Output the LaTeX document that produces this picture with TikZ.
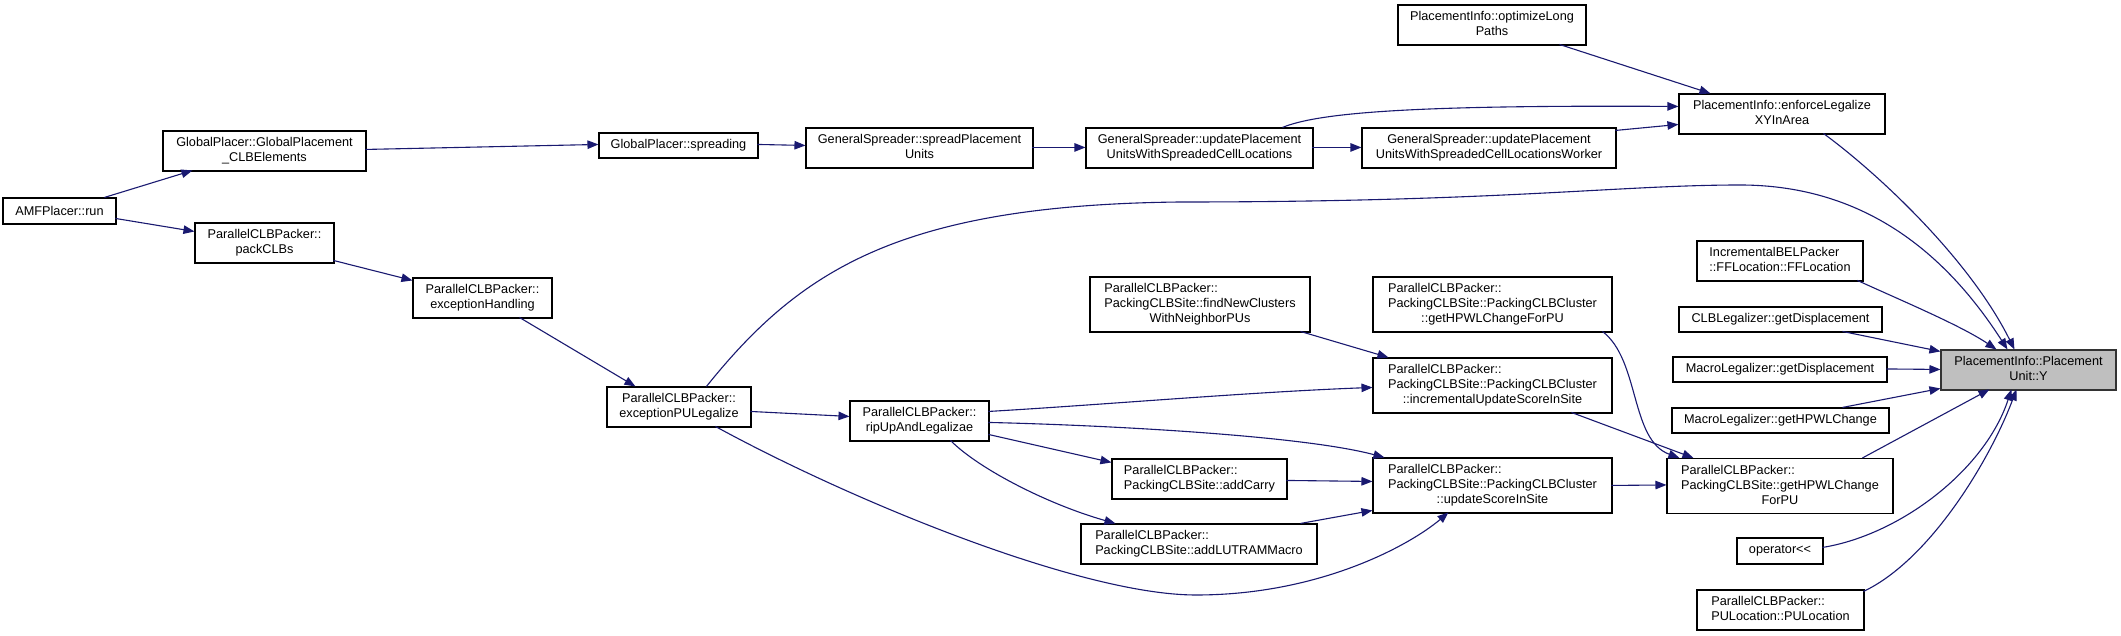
\documentclass[tikz,border=0pt]{standalone}
\usepackage{fontspec}
\setmainfont{Liberation Sans}
\usetikzlibrary{arrows.meta,calc}
\definecolor{edgec}{HTML}{191970}
\definecolor{rootfill}{HTML}{BFBFBF}
\newcommand\tcen[1]{\begin{tabular}{@{}c@{}}#1\end{tabular}}
\newcommand\tlft[1]{\begin{tabular}{@{}l@{}}#1\end{tabular}}
\newcommand\lastc[1]{\multicolumn{1}{@{}c@{}}{#1}}
\tikzset{
  fn/.style={draw=black, fill=white, line width=1.1pt, inner sep=0pt, rectangle,
    font=\fontsize{12.7}{15}\selectfont},
  root/.style={fn, fill=rootfill, draw=black!80},
  edge/.style={draw=edgec, line width=1.1pt, -{Triangle[length=11pt,width=8.5pt]}}
}
\begin{document}
\begin{tikzpicture}[x=1pt,y=-1pt]
\fill[white] (0,0) rectangle (2121,636);
\useasboundingbox (0,0) rectangle (2121,636);

% nodes
\node[fn,minimum width=113pt,minimum height=26pt] (amf) at (59.5,211) {AMFPlacer::run};
\node[fn,minimum width=203pt,minimum height=40pt] (gp) at (264.5,151) {\tcen{GlobalPlacer::GlobalPlacement\\\_CLBElements}};
\node[fn,minimum width=139pt,minimum height=40pt] (pack) at (264.5,243) {\tcen{ParallelCLBPacker::\\packCLBs}};
\node[fn,minimum width=139pt,minimum height=40pt] (exh) at (482.5,298) {\tcen{ParallelCLBPacker::\\exceptionHandling}};
\node[fn,minimum width=144pt,minimum height=40pt] (epl) at (679,407) {\tcen{ParallelCLBPacker::\\exceptionPULegalize}};
\node[fn,minimum width=139pt,minimum height=40pt] (rip) at (919.5,421) {\tcen{ParallelCLBPacker::\\ripUpAndLegalizae}};
\node[fn,minimum width=159pt,minimum height=25pt] (spr) at (678.5,145.5) {GlobalPlacer::spreading};
\node[fn,minimum width=227pt,minimum height=40pt] (spu) at (919.5,148) {\tcen{GeneralSpreader::spreadPlacement\\Units}};
\node[fn,minimum width=227pt,minimum height=40pt] (upu) at (1199.5,148) {\tcen{GeneralSpreader::updatePlacement\\UnitsWithSpreadedCellLocations}};
\node[fn,minimum width=254pt,minimum height=40pt] (wrk) at (1489,148) {\tcen{GeneralSpreader::updatePlacement\\UnitsWithSpreadedCellLocationsWorker}};
\node[fn,minimum width=188pt,minimum height=40pt] (olp) at (1492,25) {\tcen{PlacementInfo::optimizeLong\\Paths}};
\node[fn,minimum width=206pt,minimum height=40pt] (enf) at (1782,114) {\tcen{PlacementInfo::enforceLegalize\\XYInArea}};
\node[fn,minimum width=220pt,minimum height=55pt] (fnc) at (1200,304.5) {\tlft{ParallelCLBPacker::\\PackingCLBSite::findNewClusters\\\lastc{WithNeighborPUs}}};
\node[fn,minimum width=239pt,minimum height=55pt] (cgh) at (1492.5,304.5) {\tlft{ParallelCLBPacker::\\PackingCLBSite::PackingCLBCluster\\\lastc{::getHPWLChangeForPU}}};
\node[fn,minimum width=239pt,minimum height=55pt] (ius) at (1492.5,385.5) {\tlft{ParallelCLBPacker::\\PackingCLBSite::PackingCLBCluster\\\lastc{::incrementalUpdateScoreInSite}}};
\node[fn,minimum width=175pt,minimum height=40pt] (car) at (1199.5,479) {\tlft{ParallelCLBPacker::\\PackingCLBSite::addCarry}};
\node[fn,minimum width=236pt,minimum height=40pt] (lut) at (1199,544) {\tlft{ParallelCLBPacker::\\PackingCLBSite::addLUTRAMMacro}};
\node[fn,minimum width=239pt,minimum height=55pt] (usc) at (1492.5,485.5) {\tlft{ParallelCLBPacker::\\PackingCLBSite::PackingCLBCluster\\\lastc{::updateScoreInSite}}};
\node[fn,minimum width=166pt,minimum height=40pt] (ibp) at (1780,261) {\tlft{IncrementalBELPacker\\::FFLocation::FFLocation}};
\node[fn,minimum width=203pt,minimum height=25pt] (clb) at (1780.5,319.5) {CLBLegalizer::getDisplacement};
\node[fn,minimum width=214pt,minimum height=25pt] (mgd) at (1780,369.5) {MacroLegalizer::getDisplacement};
\node[fn,minimum width=217pt,minimum height=25pt] (mgh) at (1780.5,420.5) {MacroLegalizer::getHPWLChange};
\node[fn,minimum width=226pt,minimum height=55pt] (sgh) at (1780,486) {\tlft{ParallelCLBPacker::\\PackingCLBSite::getHPWLChange\\\lastc{ForPU}}};
\node[fn,minimum width=86pt,minimum height=26pt] (opl) at (1780,551) {operator<\kern0pt<};
\node[fn,minimum width=167pt,minimum height=40pt] (pul) at (1780.5,610) {\tlft{ParallelCLBPacker::\\PULocation::PULocation}};
\node[root,minimum width=175pt,minimum height=40pt] (yy) at (2028.5,370) {\tcen{PlacementInfo::Placement\\Unit::Y}};

% edges
\draw[edge] ($(amf.north west)+(102,0)$) -- ($(gp.north west)+(30,40)$);
\draw[edge] ($(amf.north west)+(113,21)$) -- ($(pack.north west)+(0,9)$);
\draw[edge] ($(gp.north west)+(203,19)$) -- ($(spr.north west)+(0,12)$);
\draw[edge] ($(spr.north west)+(159,12)$) -- ($(spu.north west)+(0,18)$);
\draw[edge] ($(spu.north west)+(227,20)$) -- ($(upu.north west)+(0,20)$);
\draw[edge] ($(upu.north west)+(227,20)$) -- ($(wrk.north west)+(0,20)$);
\draw[edge] ($(upu.north west)+(197,0)$) .. controls (1320,112) and (1420,105) .. ($(enf.north west)+(0,13)$);
\draw[edge] ($(wrk.north west)+(254,3)$) -- ($(enf.north west)+(0,31)$);
\draw[edge] ($(olp.north west)+(162,40)$) -- ($(enf.north west)+(32,0)$);
\draw[edge] ($(enf.north west)+(145,40)$) .. controls (1880,175) and (1970,260) .. ($(yy.north west)+(74,0)$);
\draw[edge] ($(pack.north west)+(139,38)$) -- ($(exh.north west)+(0,3)$);
\draw[edge] ($(exh.north west)+(107,40)$) -- ($(epl.north west)+(29,0)$);
\draw[edge] ($(epl.north west)+(100,0)$) .. controls (800,270) and (900,205) .. (1180,202)
  .. controls (1500,202) and (1620,185) .. (1740,185)
  .. controls (1870,185) and (1950,260) .. ($(yy.north west)+(67,0)$);
\draw[edge] ($(epl.north west)+(144,25)$) -- ($(rip.north west)+(0,16)$);
\draw[edge] ($(epl.north west)+(109,40)$) .. controls (850,500) and (1080,595) .. (1196,595)
  .. controls (1320,595) and (1410,545) .. ($(usc.north west)+(76,55)$);
\draw[edge] ($(rip.north west)+(139,11)$) .. controls (1100,405) and (1250,392) .. ($(ius.north west)+(0,30)$);
\draw[edge] ($(rip.north west)+(139,22)$) .. controls (1100,425) and (1300,435) .. ($(usc.north west)+(12,0)$);
\draw[edge] ($(rip.north west)+(139,34)$) -- ($(car.north west)+(0,4)$);
\draw[edge] ($(rip.north west)+(101,40)$) .. controls (980,470) and (1050,505) .. ($(lut.north west)+(35,0)$);
\draw[edge] ($(fnc.north west)+(211,55)$) -- ($(ius.north west)+(16,0)$);
\draw[edge] ($(car.north west)+(175,22)$) -- ($(usc.north west)+(0,24)$);
\draw[edge] ($(lut.north west)+(220,0)$) -- ($(usc.north west)+(0,53)$);
\draw[edge] ($(ius.north west)+(199,55)$) -- ($(sgh.north west)+(27,0)$);
\draw[edge] ($(usc.north west)+(239,28)$) -- ($(sgh.north west)+(0,27)$);
\draw[edge] ($(cgh.north west)+(230,55)$) .. controls (1640,360) and (1630,440) .. ($(sgh.north west)+(13,0)$);
\draw[edge] ($(ibp.north west)+(161,40)$) .. controls (1900,300) and (1960,325) .. ($(yy.north west)+(56,0)$);
\draw[edge] ($(clb.north west)+(164,25)$) -- ($(yy.north west)+(0,2)$);
\draw[edge] ($(mgd.north west)+(214,12.5)$) -- ($(yy.north west)+(0,20)$);
\draw[edge] ($(mgh.north west)+(171,0)$) -- ($(yy.north west)+(0,39)$);
\draw[edge] ($(sgh.north west)+(196,0)$) -- ($(yy.north west)+(49,40)$);
\draw[edge] ($(opl.north west)+(86,10)$) .. controls (1900,535) and (1985,470) .. ($(yy.north west)+(71,40)$);
\draw[edge] ($(pul.north west)+(167,2)$) .. controls (1930,560) and (1990,460) .. ($(yy.north west)+(76,40)$);
\end{tikzpicture}
\end{document}
